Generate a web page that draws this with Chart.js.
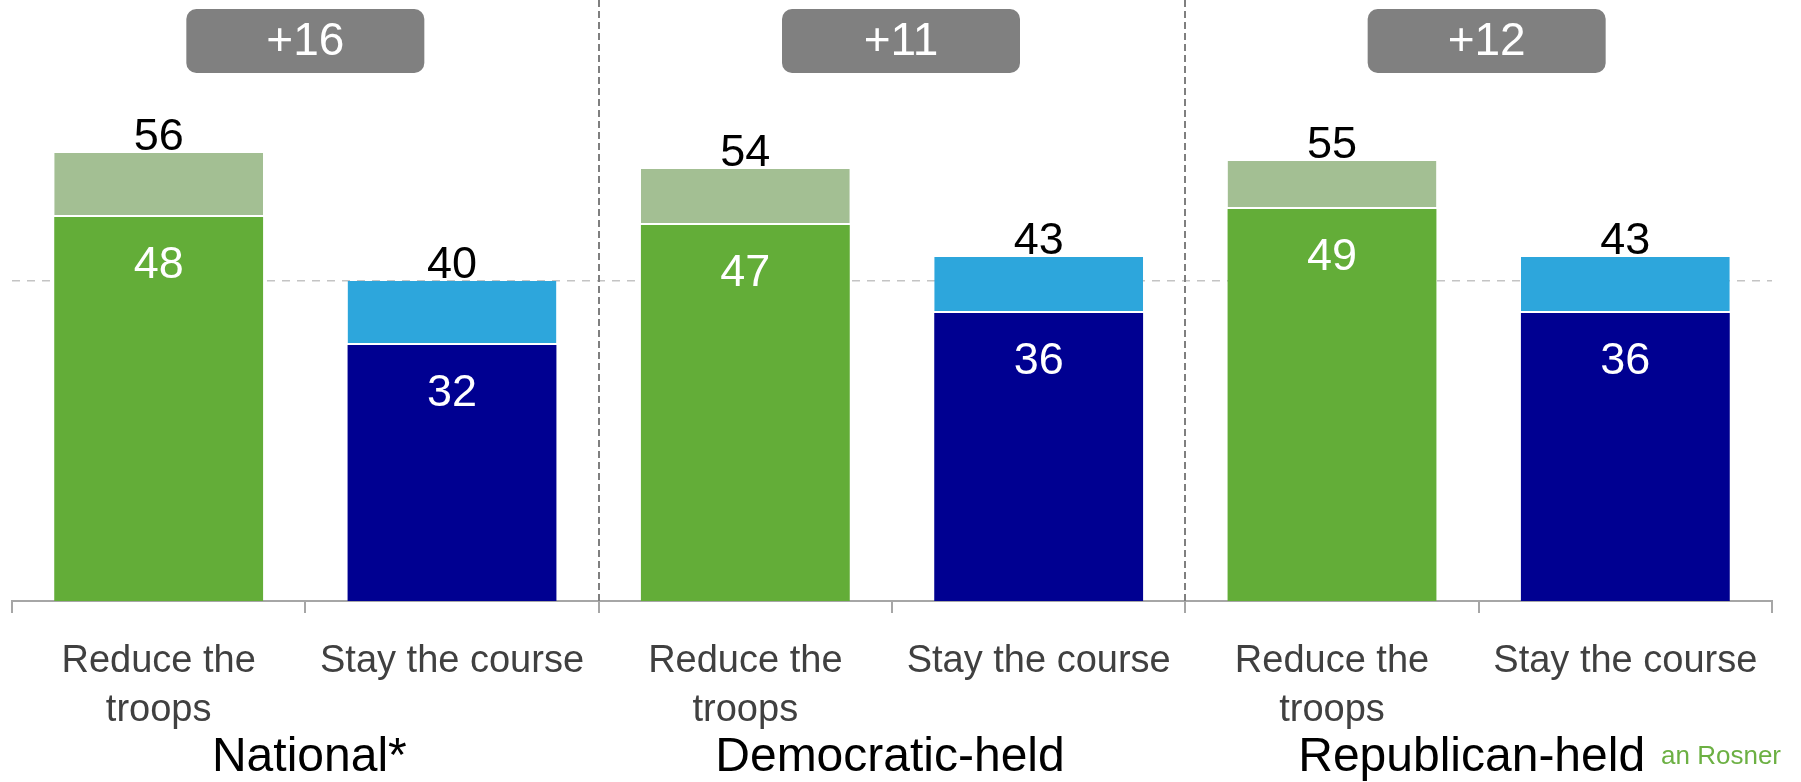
<!DOCTYPE html>
<html>
<head>
<meta charset="utf-8">
<script src="https://cdn.jsdelivr.net/npm/chart.js@4/dist/chart.umd.min.js"></script>
<style>
  html, body { margin: 0; padding: 0; background: #fff; }
  #wrap { width: 1801px; height: 782px; position: relative; }
</style>
</head>
<body>
<div id="wrap"><canvas id="troops_plot"></canvas></div>
<script>
// categories and values
const answers = [["Reduce the", "troops"], "Stay the course", ["Reduce the", "troops"], "Stay the course", ["Reduce the", "troops"], "Stay the course"];
const groups = ["National*", "Democratic-held", "Republican-held"];
const leads = ["+16", "+11", "+12"];
const strong = [48, 32, 47, 36, 49, 36];
const total = [56, 40, 54, 43, 55, 43];

const strongColors = ["#63ad38", "#000091", "#63ad38", "#000091", "#63ad38", "#000091"];
const softColors = ["#a3bf93", "#2da6dc", "#a3bf93", "#2da6dc", "#a3bf93", "#2da6dc"];
const FONT = "'Liberation Sans', Arial, sans-serif";
// small nudges so badges / group names sit where the slide had them
const badgeShift = [0, 9, 8];
const nameShift = [4, -2, -7];

const extras = {
    id: "extras",
    afterDatasetsDraw(chart) {
        const ctx = chart.ctx, x = chart.scales.x, y = chart.scales.y;
        ctx.save();
        // group separators
        ctx.strokeStyle = "#7f7f7f";
        ctx.lineWidth = 2;
        ctx.setLineDash([7, 4]);
        [1.5, 3.5].forEach(v => {
            const px = Math.round(x.getPixelForValue(v));
            ctx.beginPath();
            ctx.moveTo(px, 0);
            ctx.lineTo(px, y.getPixelForValue(0));
            ctx.stroke();
        });
        ctx.setLineDash([]);
        // value labels
        ctx.textAlign = "center";
        ctx.textBaseline = "middle";
        ctx.font = "45px " + FONT;
        strong.forEach((v, i) => {
            const cx = x.getPixelForValue(i);
            ctx.fillStyle = "#ffffff";
            ctx.fillText(String(v), cx, y.getPixelForValue(v) + 49);
            ctx.fillStyle = "#000000";
            ctx.fillText(String(total[i]), cx, y.getPixelForValue(total[i]) - 15);
        });
        // lead badges and group names
        groups.forEach((g, k) => {
            const cx = x.getPixelForValue(2 * k + 0.5);
            const bx = cx + badgeShift[k];
            const w = 238, h = 64, top = 9;
            ctx.fillStyle = "#808080";
            ctx.beginPath();
            ctx.roundRect(bx - w / 2, top, w, h, 10);
            ctx.fill();
            ctx.fillStyle = "#ffffff";
            ctx.font = "46px " + FONT;
            ctx.fillText(leads[k], bx, top + h / 2 + 1);
            ctx.fillStyle = "#000000";
            ctx.font = "48px " + FONT;
            ctx.fillText(g, cx + nameShift[k], 758);
        });
        ctx.fillStyle = "#6cb043";
        ctx.font = "26px " + FONT;
        ctx.textAlign = "right";
        ctx.fillText("an Rosner", 1781, 757);
        ctx.restore();
    }
};

new Chart(document.getElementById("troops_plot"), {
    type: "bar",
    data: {
        labels: answers,
        datasets: [
            {
                label: "strong",
                data: strong,
                backgroundColor: strongColors,
                borderWidth: 0,
                categoryPercentage: 1,
                barPercentage: 0.712
            },
            {
                label: "total",
                data: total.map((t, i) => t - strong[i]),
                backgroundColor: softColors,
                borderColor: "#ffffff",
                borderWidth: {top: 0, left: 0, right: 0, bottom: 2},
                borderSkipped: false,
                categoryPercentage: 1,
                barPercentage: 0.712
            }
        ]
    },
    options: {
        responsive: true,
        maintainAspectRatio: false,
        animation: false,
        layout: { padding: { left: 12, right: 29, top: 1, bottom: 23 } },
        plugins: { legend: { display: false }, tooltip: { enabled: false } },
        scales: {
            x: {
                stacked: true,
                offset: true,
                border: { display: true, color: "#a6a6a6", width: 2 },
                grid: { offset: true, drawOnChartArea: false, drawTicks: true, tickLength: 12, color: "#a6a6a6", lineWidth: 2 },
                ticks: {
                    color: "#404040",
                    padding: 24,
                    maxRotation: 0,
                    autoSkip: false,
                    font: { family: FONT, size: 38, lineHeight: 1.29 }
                }
            },
            y: {
                stacked: true,
                min: 0,
                max: 75,
                afterFit(s) { s.width = 0; },
                afterBuildTicks(s) { s.ticks = [{ value: 40 }]; },
                border: { display: false, dash: [8, 7] },
                grid: { color: "#c4c4c4", lineWidth: 1.5, drawTicks: false },
                ticks: { display: false }
            }
        }
    },
    plugins: [extras]
});
</script>
</body>
</html>
